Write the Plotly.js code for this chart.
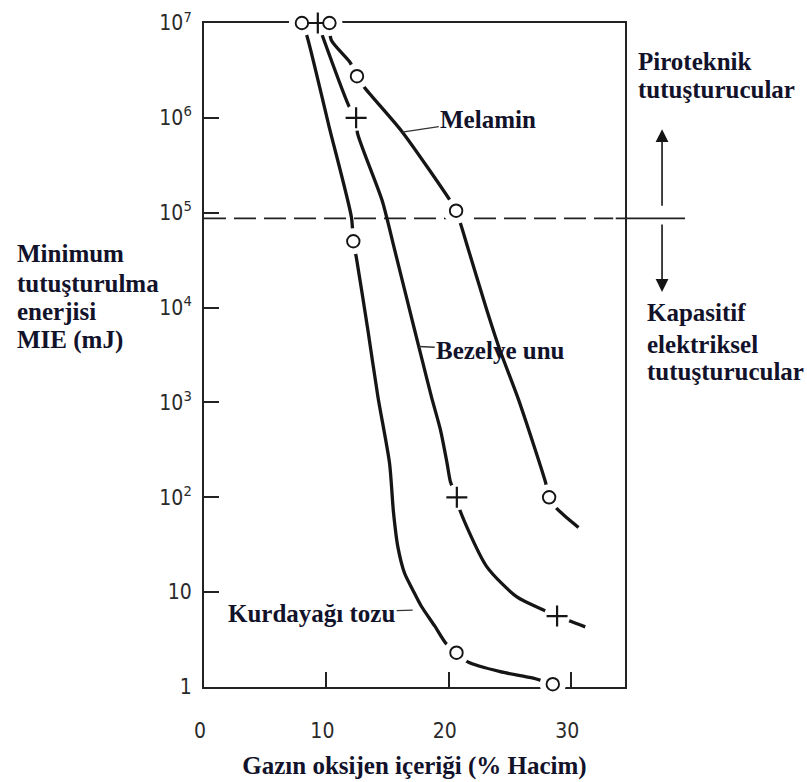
<!DOCTYPE html>
<html>
<head>
<meta charset="utf-8">
<script src="https://cdn.plot.ly/plotly-3.0.1.min.js"></script>
<style>html,body{margin:0;padding:0;background:#fff}</style>
</head>
<body>
<div id="chart" style="width:807px;height:782px"></div>
<script>
// Minimum ignition energy (mJ) versus oxygen content of the gas (% by volume)

// Kurdayağı tozu (lycopodium) – curve and measured points
const kurdCurveX = [8.0, 8.4, 10.2, 12.05, 12.2, 12.46, 13.39, 14.21, 15.16, 15.48, 15.84, 16.39, 17.07, 17.76, 18.85, 19.75, 20.63, 21.55, 24.2, 26.9, 28.5];
const kurdCurveY = [1e7, 7.4e6, 8.3e5, 8.9e4, 5.0e4, 3.3e4, 5.8e3, 1150, 229, 70, 30, 15.8, 10.5, 7.1, 4.4, 2.9, 2.3, 1.84, 1.45, 1.24, 1.07];
const kurdPointX = [8.0, 12.2, 20.63, 28.5];
const kurdPointY = [1e7, 5.0e4, 2.3, 1.07];

// Bezelye unu (pea flour)
const bezCurveX = [9.3, 11.89, 12.43, 12.54, 14.55, 15.57, 17.21, 17.89, 18.58, 19.32, 19.86, 20.14, 20.66, 20.9, 23.1, 25.57, 27.6, 28.85, 31.15];
const bezCurveY = [1e7, 1.29e6, 1e6, 6.9e5, 1.35e5, 4.1e4, 5.8e3, 2.6e3, 1150, 513, 229, 145, 100, 74, 18.6, 8.9, 6.6, 5.6, 4.3];
const bezPointX = [9.3, 12.43, 20.66, 28.85];
const bezPointY = [1e7, 1e6, 100, 5.6];

// Melamin
const melCurveX = [10.25, 10.4, 11.9, 12.5, 13.1, 16.2, 20.1, 20.6, 21.6, 23.1, 24.2, 25.7, 27.9, 28.2, 28.7, 29.7, 30.6];
const melCurveY = [1e7, 6.6e6, 3.9e6, 2.75e6, 2.1e6, 7.1e5, 1.35e5, 1.05e5, 4.1e4, 9.5e3, 3.5e3, 1.07e3, 145, 100, 79, 60, 48];
const melPointX = [10.25, 12.5, 20.6, 28.2];
const melPointY = [1e7, 2.75e6, 1.05e5, 100];

// Boundary between pyrotechnic and capacitive electrical igniters (mJ)
const igniterLimit = 8.7e4;

// Axis ticks
const xTickVals = [0, 10, 20, 30];
const xTickText = ['0', '10', '20', '30'];
const yTickVals = [1, 10, 1e2, 1e3, 1e4, 1e5, 1e6, 1e7];
const yTickText = ['1', '10', '10<sup>2</sup>', '10<sup>3</sup>', '10<sup>4</sup>', '10<sup>5</sup>', '10<sup>6</sup>', '10<sup>7</sup>'];

const INK = '#151515';
const TEXT = '#12122a';
const SERIF = '"Liberation Serif", "Times New Roman", serif';
const NARROW = '"Liberation Sans Narrow", "DejaVu Sans Condensed", "Arial Narrow", sans-serif';
const Y_MAX_EXP = 7;

function curve(x, y) {
  return {x: x, y: y, type: 'scatter', mode: 'lines', hoverinfo: 'skip', showlegend: false,
          line: {color: INK, width: 3.3, shape: 'spline', smoothing: 0.7}};
}
function halo(x, y) {
  return {x: x, y: y, type: 'scatter', mode: 'markers', hoverinfo: 'skip', showlegend: false, cliponaxis: false,
          marker: {symbol: 'circle', size: 26, color: '#ffffff', line: {width: 0}}};
}
function circles(x, y) {
  return {x: x, y: y, type: 'scatter', mode: 'markers', showlegend: false, cliponaxis: false,
          marker: {symbol: 'circle', size: 12.5, color: '#ffffff', line: {color: INK, width: 1.9}}};
}
function crosses(x, y) {
  return {x: x, y: y, type: 'scatter', mode: 'markers', showlegend: false, cliponaxis: false,
          marker: {symbol: 'cross-thin', size: 15, color: INK, line: {color: INK, width: 2.2}}};
}

const traces = [
  curve(kurdCurveX, kurdCurveY),
  curve(bezCurveX, bezCurveY),
  curve(melCurveX, melCurveY),
  halo(kurdPointX, kurdPointY),
  halo(bezPointX, bezPointY),
  halo(melPointX, melPointY),
  circles(kurdPointX, kurdPointY),
  crosses(bezPointX, bezPointY),
  circles(melPointX, melPointY)
];

const limitPaperY = Math.log10(igniterLimit) / Y_MAX_EXP;

function label(text, x, y, size, anchor) {
  return {text: text, xref: 'paper', yref: 'paper', x: x, y: y, showarrow: false,
          xanchor: anchor || 'left', yanchor: 'middle',
          font: {family: SERIF, size: size || 25, color: TEXT, weight: 'bold'}};
}
function arrow(yTip, ay) {
  return {text: '', xref: 'paper', yref: 'paper', x: 1.088, y: yTip, ax: 0, ay: ay,
          showarrow: true, arrowhead: 2, arrowsize: 1.6, arrowwidth: 1.6, arrowcolor: INK};
}
function curveLabel(text, x, yExp, ax, ay) {
  return {text: text, x: x, y: yExp, xref: 'x', yref: 'y', ax: ax, ay: ay,
          showarrow: true, arrowhead: 0, arrowwidth: 1.4, arrowcolor: '#333',
          font: {family: SERIF, size: 25, color: TEXT, weight: 'bold'}};
}

const layout = {
  width: 807, height: 782,
  margin: {l: 204, r: 182, t: 23, b: 95},
  paper_bgcolor: '#ffffff', plot_bgcolor: '#ffffff',
  showlegend: false,
  xaxis: {
    range: [0, 34.4], showgrid: false, zeroline: false,
    showline: true, mirror: true, linecolor: '#222', linewidth: 2, layer: 'below traces',
    ticks: 'inside', ticklen: 15, tickwidth: 2, tickcolor: '#222',
    tickvals: xTickVals, ticktext: xTickText, ticklabelstandoff: 24, ticklabelshift: -4,
    tickfont: {family: NARROW, size: 21, color: '#2a2a2a'},
    title: {text: 'Gazın oksijen içeriği (% Hacim)', standoff: 14,
            font: {family: SERIF, size: 25, color: TEXT, weight: 'bold'}}
  },
  yaxis: {
    type: 'log', range: [0, Y_MAX_EXP], showgrid: false, zeroline: false,
    showline: true, mirror: true, linecolor: '#222', linewidth: 2, layer: 'below traces',
    ticks: 'inside', ticklen: 15, tickwidth: 2, tickcolor: '#222',
    tickvals: yTickVals, ticktext: yTickText, ticklabelstandoff: 6,
    tickfont: {family: NARROW, size: 21, color: '#2a2a2a'}
  },
  shapes: [
    {type: 'line', xref: 'paper', yref: 'paper', x0: 0, x1: 0.972, y0: limitPaperY, y1: limitPaperY,
     layer: 'below', line: {color: '#222', width: 1.8, dash: '22px,8px'}},
    {type: 'line', xref: 'paper', yref: 'paper', x0: 0.978, x1: 1.1425, y0: limitPaperY, y1: limitPaperY,
     layer: 'below', line: {color: '#222', width: 1.8}}
  ],
  annotations: [
    label('Minimum', -0.449, 0.6536),
    label('tutuşturulma', -0.449, 0.6084),
    label('enerjisi', -0.449, 0.5648),
    label('MIE (mJ)', -0.449, 0.5226),
    label('Piroteknik', 1.026, 0.9413),
    label('tutuşturucular', 1.026, 0.9006),
    label('Kapasitif', 1.0475, 0.5633),
    label('elektriksel', 1.0475, 0.5151),
    label('tutuşturucular', 1.0475, 0.4744),
    arrow(0.840, 78),
    arrow(0.595, -69),
    curveLabel('Melamin', 16.2, 5.85, 86, -13),
    curveLabel('Bezelye unu', 17.55, 3.59, 82, 4),
    curveLabel('Kurdayağı tozu', 17.05, 0.81, -101, 3)
  ]
};

Plotly.newPlot('chart', traces, layout, {displayModeBar: false, staticPlot: true});
</script>
</body>
</html>
